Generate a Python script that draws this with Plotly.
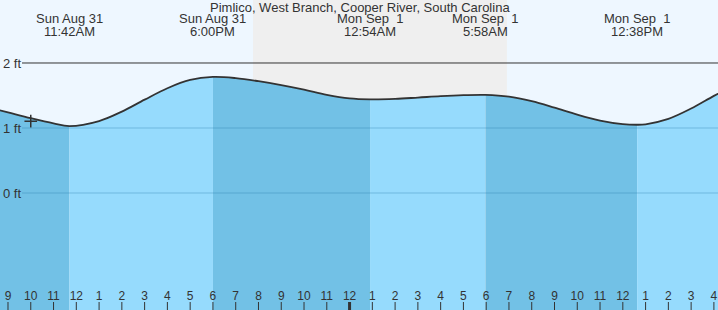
import plotly.graph_objects as go

# ---- data (hours since Sun Aug 31 00:00, tide height in ft) ----
hours = [8, 9, 10, 11, 11.7, 13, 14, 15, 16, 17, 18, 19, 20, 21, 22, 23, 24, 24.9,
         26, 27, 28, 29, 29.97, 31, 32, 33, 34, 35, 36, 36.63, 37, 38, 39, 40, 41]
heights = [1.33, 1.24, 1.15, 1.07, 1.03, 1.107, 1.252, 1.436, 1.612, 1.739, 1.785,
           1.767, 1.72, 1.66, 1.59, 1.51, 1.455, 1.44,
           1.447, 1.468, 1.49, 1.505, 1.51, 1.483, 1.412, 1.312, 1.205, 1.115, 1.06, 1.05,
           1.057, 1.14, 1.299, 1.494, 1.679]

ext_times = [11.7, 18.0, 24.9, 29.97, 36.63]
ext_day = ["Sun Aug 31", "Sun Aug 31", "Mon Sep  1", "Mon Sep  1", "Mon Sep  1"]
ext_time_lbl = ["11:42AM", "6:00PM", "12:54AM", "5:58AM", "12:38PM"]
ext_kind = ["low", "high", "low", "high", "low"]

night_start, night_end = 19.76, 30.91
now_time, now_height = 10.0, 1.105
tick_hours = list(range(9, 41))
ft_levels = [0, 1, 2]
ft_labels = ["0 ft", "1 ft", "2 ft"]
title = "Pimlico, West Branch, Cooper River, South Carolina"

# ---- styles ----
W, H = 718, 310
X_RANGE = [8.649, 40.18]
Y_RANGE = [-1.8, 2.969]
DAY_BG = "#eef7ff"
NIGHT_BG = "#efefef"
RISE = "#96dbfd"
FALL = "#72c1e6"
TXT = "#333333"
FONT = "Liberation Sans"

fig = go.Figure()

# segment fills between extremes
bounds = [hours[0]] + ext_times + [hours[-1]]
for i in range(len(bounds) - 1):
    a, b = bounds[i], bounds[i + 1]
    xs = [h for h in hours if a <= h <= b]
    ys = [heights[hours.index(h)] for h in xs]
    if i < len(ext_kind):
        falling = ext_kind[i] == "low"
    else:
        falling = ext_kind[-1] == "high"
    col = FALL if falling else RISE
    fig.add_trace(go.Scatter(x=[a, b], y=[Y_RANGE[0] - 1] * 2, mode="lines",
                             line=dict(width=0), hoverinfo="skip", showlegend=False))
    fig.add_trace(go.Scatter(x=xs, y=ys, mode="lines", line=dict(width=0, shape="spline"),
                             fill="tonexty", fillcolor=col, hoverinfo="skip", showlegend=False))

# tide curve
fig.add_trace(go.Scatter(x=hours, y=heights, mode="lines",
                         line=dict(color=TXT, width=1.8, shape="spline"),
                         hoverinfo="skip", showlegend=False))

# current-time marker
fig.add_trace(go.Scatter(x=[now_time], y=[now_height], mode="markers",
                         marker=dict(symbol="cross-thin", size=9, line=dict(color=TXT, width=1.5)),
                         hoverinfo="skip", showlegend=False))

# hour tick labels
tick_text = [str((h - 1) % 12 + 1) for h in tick_hours]
fig.add_trace(go.Scatter(x=tick_hours, y=[-1.6] * len(tick_hours), mode="text",
                         text=tick_text, textposition="middle center",
                         textfont=dict(family=FONT, size=12, color=TXT),
                         hoverinfo="skip", showlegend=False))

shapes = []
shapes.append(dict(type="rect", xref="x", yref="paper", x0=night_start, x1=night_end,
                   y0=0, y1=1, fillcolor=NIGHT_BG, line=dict(width=0), layer="below"))
for lv in ft_levels:
    col = TXT if lv == 2 else "rgba(40,120,170,0.35)"
    shapes.append(dict(type="line", xref="paper", yref="y", x0=22 / W, x1=1, y0=lv, y1=lv,
                       line=dict(color=col, width=1), layer="above"))
for h in tick_hours:
    shapes.append(dict(type="line", xref="x", yref="paper", x0=h, x1=h, y0=0, y1=8 / H,
                       line=dict(color=TXT, width=3 if h % 24 == 0 else 1), layer="above"))

annotations = [dict(text=title, xref="paper", yref="paper", x=360 / W, y=1 - 7.5 / H,
                    showarrow=False, xanchor="center", yanchor="middle",
                    font=dict(family=FONT, size=13, color=TXT))]
for t, d, tl in zip(ext_times, ext_day, ext_time_lbl):
    annotations.append(dict(text=d, xref="x", yref="paper", x=t, y=1 - 19 / H, showarrow=False,
                            xanchor="center", yanchor="middle",
                            font=dict(family=FONT, size=13, color=TXT)))
    annotations.append(dict(text=tl, xref="x", yref="paper", x=t, y=1 - 31.5 / H, showarrow=False,
                            xanchor="center", yanchor="middle",
                            font=dict(family=FONT, size=13, color=TXT)))

fig.update_layout(
    width=W, height=H, margin=dict(l=0, r=0, t=0, b=0),
    paper_bgcolor=DAY_BG, plot_bgcolor=DAY_BG,
    shapes=shapes, annotations=annotations,
    xaxis=dict(range=X_RANGE, showgrid=False, zeroline=False, showticklabels=False,
               showline=False, fixedrange=True),
    yaxis=dict(range=Y_RANGE, showgrid=False, zeroline=False, tickvals=ft_levels,
               ticktext=ft_labels, ticklabelposition="inside", ticks="",
               tickfont=dict(family=FONT, size=13, color=TXT), showline=False, fixedrange=True),
    showlegend=False,
)

fig.write_html("out.html", config={"displayModeBar": False})
